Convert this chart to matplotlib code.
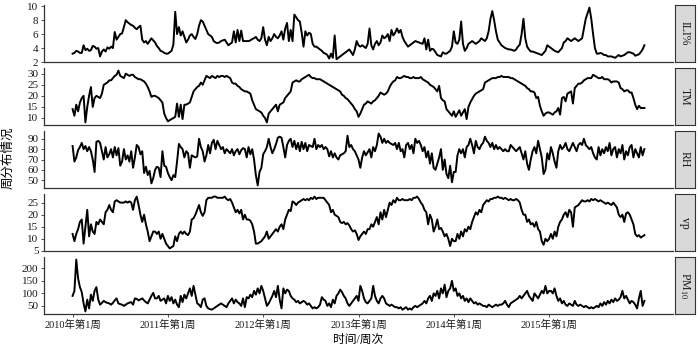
import numpy as np
import matplotlib
matplotlib.use("Agg")
import matplotlib.pyplot as plt

plt.rcParams['font.family'] = ['Liberation Serif', 'Noto Sans CJK SC']
plt.rcParams['mathtext.fontset'] = 'stix'

# weekly series, 2010 week 1 onwards
ili = [
    3.2, 3.3, 3.6, 3.5, 3.3, 3.3, 4.4, 3.7, 3.9, 3.6,
    3.7, 4.3, 4.2, 3.9, 4.0, 2.8, 3.5, 3.8, 3.5, 4.1,
    3.9, 4.2, 4.0, 6.3, 5.2, 5.6, 6.0, 6.1, 7.0, 8.0,
    7.7, 7.5, 7.3, 7.2, 6.9, 6.7, 7.0, 7.2, 5.2, 4.8,
    5.0, 4.6, 5.0, 5.4, 5.1, 4.8, 4.3, 4.0, 3.6, 3.5,
    3.3, 3.2, 3.2, 3.4, 3.6, 4.5, 9.2, 6.0, 7.0, 5.8,
    6.4, 5.6, 4.8, 5.2, 5.8, 6.0, 5.6, 5.3, 6.0, 7.2,
    8.0, 7.8, 7.2, 6.6, 6.0, 5.8, 5.6, 5.0, 4.8, 4.7,
    4.8, 5.0, 5.1, 5.2, 4.8, 4.4, 4.6, 4.8, 6.4, 4.8,
    6.6, 5.0, 6.5, 5.0, 5.0, 5.0, 5.0, 5.1, 5.3, 5.4,
    5.6, 5.2, 5.0, 5.4, 7.0, 5.2, 4.4, 5.6, 5.0, 5.4,
    6.0, 5.6, 5.4, 5.8, 6.4, 5.2, 6.8, 7.6, 5.0, 6.6,
    5.0, 8.8, 8.4, 8.0, 7.8, 6.2, 4.2, 6.4, 5.8, 6.2,
    6.0, 4.6, 4.2, 4.2, 4.0, 3.8, 3.6, 3.3, 3.2, 3.0,
    2.5, 3.2, 2.6, 5.8, 2.4, 2.6, 2.8, 3.0, 3.2, 3.4,
    3.6, 3.8, 3.4, 3.0, 3.8, 5.0, 4.4,
    4.2, 4.4, 4.2, 4.0, 4.6, 6.8, 4.4, 3.8, 4.6, 5.0,
    4.4, 4.8, 5.8, 5.4, 5.6, 6.0, 5.0, 6.6, 5.8, 6.2,
    6.8, 6.2, 6.6, 5.6, 5.0, 4.6, 4.2, 4.4, 4.6, 4.8,
    5.0, 4.9, 4.8, 4.7, 4.6, 5.4, 3.8, 5.2, 3.6, 3.9,
    3.8, 3.4, 3.0, 2.9, 2.8, 3.4, 3.2, 3.2, 3.4, 3.6,
    4.2, 6.4, 4.8, 4.6, 5.2, 7.8, 4.6, 3.6, 4.0, 4.6,
    4.8, 5.0, 4.8, 4.6, 4.8, 5.0, 5.4, 5.2, 5.0, 5.4,
    6.4, 8.2, 9.3, 8.0, 6.4, 5.2, 4.8, 4.4, 4.2, 4.0,
    3.9, 3.8, 3.8, 3.7, 3.6, 3.8, 4.2, 4.5, 6.0, 8.2,
    5.4, 4.2, 3.8, 3.5, 3.5, 3.4, 3.3, 3.2, 3.1, 3.0,
    3.3, 3.6, 4.4, 4.2, 4.0, 3.8, 3.6, 3.5, 3.4, 3.7,
    4.0, 4.8, 5.0, 5.4, 5.2, 5.0, 5.2, 5.4, 5.2, 5.0,
    5.2, 5.4, 6.8, 8.2, 9.0, 9.8, 8.2, 6.0, 4.0, 3.2,
    3.2, 3.3, 3.2, 3.0, 3.0, 2.8, 2.8, 2.8, 2.7, 2.6,
    2.8, 3.0, 2.8, 2.9, 3.0, 3.2, 3.4, 3.4, 3.3, 3.2,
    2.9, 3.0, 3.1, 3.4, 3.8, 4.4,
]

tm = [
    14, 11, 16, 13, 17, 19, 20, 8, 15, 20,
    24, 15, 19, 20, 19.5, 19, 21, 25, 25.5, 26,
    27, 27, 28, 29, 29.5, 31.4, 29, 28.5, 28, 30,
    29.5, 29, 29.5, 29.5, 28.5, 28, 27.5, 27.5, 27, 26.5,
    25.5, 24, 22, 19.5, 20, 20, 19.5, 19, 18, 17,
    12, 10, 8.5, 9, 9.5, 10, 10.5, 16.5, 10.5, 16,
    9.5, 16, 16, 16.5, 17, 19.5, 22, 23, 24, 24.5,
    26, 25, 27, 29, 28.5, 28, 29, 28.5, 28, 29,
    28.5, 29, 29, 28.5, 29, 28.5, 28, 26, 25.5, 25.5,
    24.5, 24, 23, 22.5, 22, 22, 21.5, 21, 18, 16,
    14, 13.5, 13, 12.5, 11, 10, 8, 12, 13, 14,
    15, 16, 13, 16, 16.5, 17, 19, 20, 21, 22,
    26, 26.5, 27, 26.5, 26.5, 27.5, 28, 28.5, 29, 29.5,
    28.5, 28, 28, 27.5, 27.5, 27.5, 27, 26.5, 26, 25.5,
    25, 24.5, 24, 23.5, 23, 22.5, 22, 20.5, 20, 19,
    18.5, 17.5, 16.5, 15.5, 14, 13, 10.5,
    12, 14, 16, 16.5, 17.5, 17, 16.5, 17.5, 18, 19,
    20, 21.5, 21, 20.5, 21, 22, 24, 25.5, 26.5, 27,
    28.5, 28, 28, 28.5, 29, 28.5, 28.5, 28, 28, 28.5,
    28, 28, 28, 28.5, 27.5, 27, 26.5, 26, 25, 24.5,
    24, 23, 22, 24.5, 19, 18, 17.5, 14, 13, 12,
    11, 13, 10.5, 12, 13.5, 11, 12.5, 14, 9.5, 15,
    17, 18.5, 20, 21, 21.5, 22, 22.5, 23, 26, 26.5,
    27, 27.5, 28, 28, 28, 28.5, 28.5, 29, 28.5, 28.5,
    28.5, 28.5, 28, 28, 27.5, 27, 26.5, 26, 25.5, 25,
    24.5, 23.5, 23, 22, 22, 21.5, 19, 19.5, 15.5, 13,
    11, 12, 12.5, 12.5, 12, 11.5, 12.5, 13, 14.5, 11.5,
    19, 19.5, 17.5, 21, 21.5, 22, 16.5, 23.5, 24.5, 25.5,
    25.5, 26, 27, 27.5, 28, 28, 28, 29.5, 29, 28.5,
    28, 28, 28.5, 27.5, 27.5, 27.5, 27, 26, 26.5, 26.5,
    26.5, 26, 23.5, 23, 22, 22.5, 22.5, 21.5, 21.5, 19,
    16, 14, 15.5, 14.5, 14.5, 14.5,
]

rh = [
    83, 68, 72, 79, 82, 86, 80, 83, 78, 82,
    78, 70, 58, 87, 88, 86, 78, 70, 82, 72,
    75, 80, 72, 82, 74, 81, 64, 68, 80, 70,
    74, 68, 78, 62, 72, 84, 82, 75, 78,
    57, 63, 55, 59, 47, 52, 60, 63, 62, 53, 78,
    64, 63, 57, 53, 50, 55, 53, 68, 85, 82,
    80, 72, 78, 76, 62, 74, 73, 72, 73,
    90, 82, 78, 68, 74, 84, 76, 86, 89, 80, 88,
    84, 80, 82, 76, 80, 78, 76, 80, 74, 78,
    80, 75, 79, 81, 80, 72, 82, 75, 80, 70,
    55, 45, 58, 62, 75, 78, 82, 90, 82, 76,
    80, 85, 91, 92, 91, 82, 72, 84, 88, 90,
    82, 88, 80, 86, 78, 87, 80, 86, 78, 84,
    83, 82, 90, 80, 84, 82, 84, 80, 82, 80,
    73, 78, 72, 76, 72, 70, 74, 75, 76,
    78, 93, 82, 84, 80, 78, 74, 70,
    62, 72, 78, 74, 77, 80, 72, 82, 78, 84, 95,
    92, 86, 90, 86, 88, 86, 85, 84, 86, 80,
    86, 78, 80, 72, 84, 86, 80, 84, 76,
    90, 86, 88, 84, 78, 82, 72, 78, 66, 76, 62,
    60, 66, 72, 80, 60, 70, 56, 52, 64, 48, 58,
    58, 74, 80, 76, 80, 72, 82, 84, 90,
    84, 76, 88, 82, 80, 84, 86, 92, 88, 86,
    82, 86, 80, 84, 80, 82, 80, 78, 80, 78,
    78, 84, 82, 80, 78,
    80, 82, 76, 70, 78, 66, 60, 70, 78, 82, 76, 88, 80, 72, 56, 60, 76,
    70, 82, 76, 68, 62, 78, 84, 80,
    82, 86, 80, 78, 82, 86, 82, 78, 84,
    86, 84, 90, 84, 82, 80, 82, 76, 72, 70,
    82, 74, 80, 76, 82, 78, 86, 74, 80,
    82, 72, 80, 76, 84, 70, 78, 74, 82,
    84, 72, 80, 76, 72, 82, 74, 80,
]

vp = [
    12, 9, 12,
    14, 17, 18, 8, 15, 22, 11, 16, 13,
    12, 17, 16, 18, 17, 16, 21, 22, 24, 22,
    21, 25.5, 26, 25.5, 25, 25, 25, 25.5, 25,
    25.5, 25, 22, 26, 27.5,
    24, 20, 17, 20, 16, 13, 9, 11, 13,
    13, 12, 13, 10, 12, 10, 8, 7, 6, 6.5, 7,
    11, 9, 12, 13, 12,
    13, 12, 11.5, 13, 18, 18.5, 20, 22, 24, 21, 19.5, 21, 26, 27, 27,
    27, 27.5, 27.5, 27, 27,
    27, 27, 27.5, 26.5, 26, 26.5, 25, 23, 21, 22, 20.5, 22, 18, 20, 18,
    18, 17.5, 16, 13, 8, 8, 8.5, 9, 10, 11, 13, 10,
    11, 12, 13, 14, 13, 15,
    16, 14, 18, 20, 22, 21.5, 25.5, 25, 24, 25, 25.5, 26, 26.5,
    26, 26.5, 26, 27, 26.5, 27.5, 26.5, 27, 27,
    27, 27, 26, 25, 24, 21, 22, 20, 19.5, 19,
    17, 16.5, 17, 16, 16.5, 15.5, 14, 13, 13.5, 12, 9.5,
    11, 12, 13, 12, 14,
    14, 16, 15, 17, 19, 16, 21, 18, 22, 19,
    22, 25, 24, 26, 25, 27, 26, 26, 26.5, 26,
    26, 26, 26.5, 26, 27, 27, 27.5, 26.5, 25,
    24, 22, 21, 16, 20, 18, 13, 15, 18,
    14, 14.5, 13, 11, 12, 10, 7, 10, 9,
    9, 12, 10, 13, 11, 14, 13, 15, 14,
    17, 19, 21, 20, 22, 21, 24, 25, 26, 25.5, 26.5,
    26.5, 27, 27, 27.5, 27, 27, 26.5, 27, 26.5,
    26, 26.5, 26, 26, 26.5, 26, 25, 22, 20,
    20, 17, 18, 16, 16.5, 15, 17, 14, 13, 9, 7.5, 10, 9,
    10, 12, 10, 13, 11, 15, 17, 18, 20,
    21, 19, 22, 21, 15, 23, 23.5, 24, 25, 26, 25.5,
    25.5, 26, 25.5, 26.5, 26, 26.5, 26, 25.5, 26,
    25.5, 25, 24.5, 25, 24.5, 24, 25, 24, 23,
    20, 19, 20, 17, 20.5, 21, 20, 18, 16, 12, 11, 11.5, 10.5, 11, 11.5,
]

pm10 = [
    90, 110, 235, 160, 125, 105, 60, 28, 75, 40, 95, 70, 110, 125, 75, 55,
    62, 70, 65, 62, 60,
    55, 62, 72, 80, 60, 57, 55,
    50, 55, 60, 63, 65, 55, 80, 78, 72, 76, 80,
    72, 65, 60, 75, 90, 102, 80,
    80, 90, 70, 75, 80, 60, 90, 70, 85, 60, 75,
    55, 45, 90, 65, 95, 80, 100, 120, 90, 130, 95, 60,
    55, 45, 75, 80, 50, 40, 37, 35,
    40, 45, 50, 55, 60,
    55, 50, 45, 60, 70, 80, 60, 75, 65,
    60, 50, 80, 45, 85, 80, 95, 85, 110, 95, 120, 100, 130, 110, 80,
    50, 60, 75, 90, 110, 85, 130, 75, 40, 120, 100, 115, 110, 90, 80, 75,
    65, 70, 60, 65,
    70, 65, 55, 60,
    50, 40, 45, 40, 45, 55, 85, 75,
    70, 50, 60, 45, 75, 60, 90, 100, 115, 105, 90, 80,
    60, 50, 60, 70, 80, 90, 70,
    130, 110, 80, 65,
    60, 70, 80, 130, 90, 70, 60, 80, 90, 80,
    60, 55, 50, 55, 50, 45, 45, 40, 45,
    35, 40, 45, 35, 40, 35, 45, 50, 45,
    50, 55, 60, 70, 60, 80, 90, 70, 100, 90,
    110, 80, 120, 100, 135, 85, 110,
    120, 150, 110, 120, 90, 100, 80, 90, 70, 80,
    65, 80, 70, 60, 65, 55, 60, 55, 50,
    50, 45, 55, 50, 45, 50, 55, 50, 55,
    55, 60, 70, 55, 45, 60, 65, 70, 75,
    80, 90, 80, 90, 100, 110, 90, 80, 70,
    100, 90, 80, 95, 110, 100, 130, 100, 110,
    110, 100, 120, 90, 70, 80, 60, 70, 55,
    50, 60, 55, 50, 70, 55, 50, 55, 50,
    45, 50, 45, 40, 45, 40, 45, 50, 45,
    60, 50, 65, 55, 70, 60, 75, 65, 80, 70, 75, 85, 110, 80, 90, 75, 60, 70,
    65, 55, 40, 80, 110, 50, 70,
]

panels = [ili, tm, rh, vp, pm10]
strip_labels = ['ILI%', 'TM', 'RH', 'vp', 'PM$_{10}$']
y_ticks = [[2, 4, 6, 8, 10], [10, 15, 20, 25, 30], [50, 60, 70, 80, 90],
           [5, 10, 15, 20, 25], [50, 100, 150, 200]]
x_tick_pos = [0, 52, 104, 156, 208, 260]
x_tick_labels = ['2010年第1周', '2011年第1周', '2012年第1周',
                 '2013年第1周', '2014年第1周', '2015年第1周']

W, H = 700, 349
AXIS = '#333333'

fig = plt.figure(figsize=(W / 100, H / 100), dpi=100)


def box(x0, y0, x1, y1):
    # pixel box (top-left origin) -> figure fraction rect
    return [x0 / W, 1 - y1 / H, (x1 - x0) / W, (y1 - y0) / H]


top, ph, gap = 5, 57, 6
left, right = 44, 673

for i, series in enumerate(panels):
    y0 = top + i * (ph + gap)
    y1 = y0 + ph
    ax = fig.add_axes(box(left, y0, right, y1))
    ax.plot(np.arange(len(series)), series, color='black', lw=1.4,
            solid_joinstyle='round')
    ax.set_xlim(-15.6, 327.6)
    ax.margins(y=0.05)
    ax.set_yticks(y_ticks[i])
    for side in ['top', 'right']:
        ax.spines[side].set_visible(False)
    for side in ['left', 'bottom']:
        ax.spines[side].set_color(AXIS)
        ax.spines[side].set_linewidth(0.9)
    ax.tick_params(axis='y', length=2.5, width=0.6, color=AXIS,
                   labelsize=8, pad=1.5, labelcolor='#1a1a1a')
    if i == len(panels) - 1:
        ax.set_xticks(x_tick_pos)
        ax.set_xticklabels(x_tick_labels)
        ax.tick_params(axis='x', length=2.5, width=0.6, color=AXIS,
                       labelsize=7.5, pad=1.5, labelcolor='#1a1a1a')
    else:
        ax.set_xticks([])

    # facet strip on the right
    sax = fig.add_axes(box(675, y0, 695, y1))
    sax.set_facecolor('#d9d9d9')
    sax.set_xticks([])
    sax.set_yticks([])
    for s in sax.spines.values():
        s.set_color(AXIS)
        s.set_linewidth(0.8)
    sax.text(0.5, 0.5, strip_labels[i], rotation=-90, ha='center',
             va='center', fontsize=8.5, color='#1a1a1a',
             transform=sax.transAxes)

fig.text(8 / W, 1 - 158 / H, '周分布情况', rotation=90, ha='center',
         va='center', fontsize=9)
fig.text(358 / W, 1 - 340 / H, '时间/周次', ha='center', va='center',
         fontsize=8.5)

fig.savefig('out.png', dpi=100)
